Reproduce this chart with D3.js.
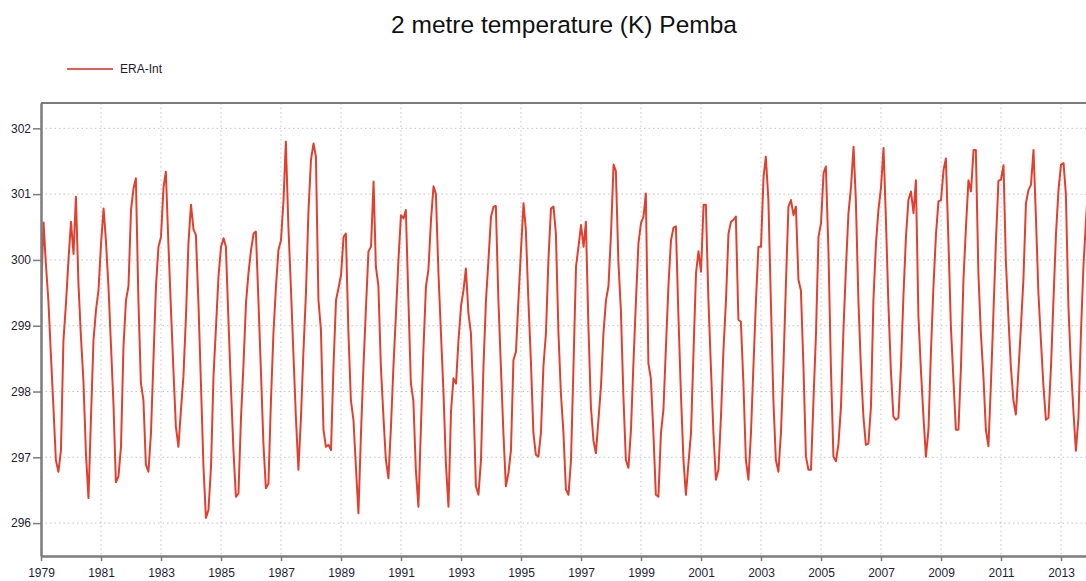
<!DOCTYPE html>
<html>
<head>
<meta charset="utf-8">
<script src="https://cdn.jsdelivr.net/npm/d3@7"></script>
<style>
  html, body { margin: 0; padding: 0; background: #fff; overflow: hidden; }
  svg { display: block; font-family: "Liberation Sans", Arial, Helvetica, sans-serif; }
</style>
</head>
<body>
<svg id="chart" width="1086" height="581"></svg>
<script>
// ---- Data -----------------------------------------------------------------
const chartTitle = "2 metre temperature (K) Pemba";
const seriesName = "ERA-Int";
const startYear = 1979;

// Monthly mean 2 m temperature (K), Jan..Dec, one row per year
const t2m1979to1983 = [
  299.44, 300.57, 299.95, 299.38, 298.57, 297.77, 296.96, 296.78, 297.11, 298.77, 299.34, 299.99,
  300.58, 300.09, 300.96, 299.64, 298.84, 298.15, 297.06, 296.38, 297.62, 298.78, 299.24, 299.54,
  300.25, 300.78, 300.30, 299.60, 298.73, 297.82, 296.62, 296.71, 297.16, 298.68, 299.39, 299.60,
  300.76, 301.09, 301.24, 299.39, 298.13, 297.87, 296.89, 296.78, 297.37, 298.48, 299.60, 300.20,
  300.35, 301.11, 301.34, 300.25, 299.29, 298.33, 297.47, 297.16, 297.72, 298.23, 299.14, 300.25
];
const t2m1984to1988 = [
  300.84, 300.46, 300.38, 299.34, 298.13, 296.86, 296.08, 296.20, 296.86, 298.23, 298.99, 299.75,
  300.20, 300.33, 300.20, 299.09, 298.08, 297.11, 296.40, 296.45, 297.60, 298.40, 299.35, 299.80,
  300.15, 300.40, 300.43, 299.39, 298.33, 297.21, 296.53, 296.60, 297.87, 298.89, 299.60, 300.15,
  300.30, 300.91, 301.80, 300.51, 299.60, 298.58, 297.62, 296.81, 297.60, 298.60, 299.50, 300.73,
  301.52, 301.77, 301.57, 299.39, 298.94, 297.42, 297.16, 297.19, 297.11, 298.38, 299.39, 299.57
];
const t2m1989to1993 = [
  299.77, 300.35, 300.40, 298.89, 297.87, 297.57, 296.86, 296.15, 297.37, 298.38, 299.29, 300.13,
  300.20, 301.19, 299.90, 299.60, 298.38, 297.62, 296.96, 296.68, 297.47, 298.38, 299.19, 300.00,
  300.68, 300.63, 300.76, 299.40, 298.13, 297.85, 296.81, 296.25, 297.47, 298.63, 299.60, 299.85,
  300.60, 301.12, 301.00, 299.80, 298.90, 298.00, 296.90, 296.25, 297.70, 298.20, 298.12, 298.78,
  299.30, 299.55, 299.87, 299.19, 298.89, 297.87, 296.56, 296.43, 296.96, 298.38, 299.39, 300.00
];
const t2m1994to1998 = [
  300.66, 300.81, 300.82, 299.39, 298.38, 297.37, 296.56, 296.76, 297.11, 298.48, 298.61, 299.39,
  300.15, 300.86, 300.46, 299.39, 298.48, 297.37, 297.04, 297.01, 297.37, 298.38, 298.89, 300.00,
  300.78, 300.81, 300.40, 298.89, 297.97, 297.37, 296.51, 296.43, 296.96, 298.38, 299.90, 300.20,
  300.53, 300.20, 300.58, 298.99, 297.77, 297.26, 297.06, 297.57, 298.08, 298.89, 299.39, 299.60,
  300.40, 301.45, 301.35, 299.97, 299.24, 297.92, 296.96, 296.84, 297.42, 298.43, 299.39, 300.25
];
const t2m1999to2003 = [
  300.56, 300.66, 301.01, 298.43, 298.20, 297.37, 296.43, 296.40, 297.37, 297.72, 298.68, 299.60,
  300.30, 300.49, 300.51, 299.14, 297.97, 296.96, 296.43, 296.91, 297.37, 298.58, 299.80, 300.13,
  299.82, 300.84, 300.84, 299.39, 298.38, 297.37, 296.66, 296.81, 297.62, 298.63, 299.39, 300.40,
  300.58, 300.61, 300.66, 299.09, 299.06, 298.13, 296.96, 296.66, 297.37, 298.38, 299.39, 300.20,
  300.20, 301.26, 301.57, 300.91, 299.39, 297.87, 296.96, 296.78, 297.37, 298.38, 299.65, 300.81
];
const t2m2004to2008 = [
  300.91, 300.68, 300.81, 299.70, 299.54, 298.38, 297.01, 296.81, 296.81, 297.87, 298.89, 300.35,
  300.56, 301.32, 301.42, 300.15, 298.38, 297.01, 296.94, 297.20, 297.77, 298.94, 299.90, 300.71,
  301.11, 301.72, 300.91, 299.39, 298.38, 297.62, 297.19, 297.21, 297.77, 299.39, 300.25, 300.76,
  301.10, 301.70, 300.66, 299.34, 298.33, 297.62, 297.57, 297.60, 298.38, 299.44, 300.35, 300.91,
  301.04, 300.71, 301.21, 299.14, 298.33, 297.62, 297.01, 297.42, 298.63, 299.60, 300.40, 300.89
];
const t2m2009to2013 = [
  300.91, 301.37, 301.54, 300.30, 298.99, 298.18, 297.42, 297.42, 298.38, 299.70, 300.51, 301.21,
  301.04, 301.67, 301.67, 299.80, 298.89, 298.23, 297.42, 297.17, 298.13, 299.19, 300.30, 301.20,
  301.22, 301.44, 300.00, 299.14, 298.38, 297.87, 297.65, 298.30, 298.99, 299.70, 300.86, 301.06,
  301.14, 301.67, 300.66, 299.49, 298.78, 298.08, 297.57, 297.60, 298.38, 299.39, 300.40, 301.06,
  301.45, 301.47, 301.00, 299.30, 298.40, 297.70, 297.10, 297.60, 298.90, 299.90, 300.60, 301.20
];

// Axis ticks
const xTickYears = [1979, 1981, 1983, 1985, 1987, 1989, 1991, 1993, 1995, 1997,
                    1999, 2001, 2003, 2005, 2007, 2009, 2011, 2013];
const yTickValues = [296, 297, 298, 299, 300, 301, 302];

// ---- Layout ---------------------------------------------------------------
const lineColor = "#e2402f";
const textColor = "#1d1d33";
const axisColor = "#7c7c7c";
const gridColor = "#c4c4c4";

const plot = { left: 41, right: 1091, top: 103, bottom: 556 };

const monthly = [].concat(t2m1979to1983, t2m1984to1988, t2m1989to1993,
                          t2m1994to1998, t2m1999to2003, t2m2004to2008, t2m2009to2013);
const points = monthly.map((v, i) => ({ date: new Date(startYear, i, 1), value: v }));

const x = d3.scaleTime()
  .domain([new Date(1979, 0, 1), new Date(2014, 0, 1)])
  .range([plot.left, plot.right]);
const y = d3.scaleLinear()
  .domain([295.5, 302.385])
  .range([plot.bottom, plot.top]);

const svg = d3.select("#chart");

svg.append("defs").append("clipPath").attr("id", "plot-clip")
  .append("rect")
  .attr("x", plot.left).attr("y", plot.top)
  .attr("width", plot.right - plot.left).attr("height", plot.bottom - plot.top);

// Title
svg.append("text")
  .attr("x", 564).attr("y", 33)
  .attr("text-anchor", "middle")
  .attr("font-size", "24.5px")
  .attr("fill", "#111")
  .text(chartTitle);

// Legend
const legend = svg.append("g");
legend.append("line")
  .attr("x1", 67).attr("x2", 113).attr("y1", 69).attr("y2", 69)
  .attr("stroke", lineColor).attr("stroke-opacity", 0.85).attr("stroke-width", 2);
legend.append("text")
  .attr("x", 120).attr("y", 69).attr("dy", "0.35em")
  .attr("font-size", "12px").attr("fill", textColor)
  .text(seriesName);

// Dotted grid
const xTickDates = xTickYears.map(yr => new Date(yr, 0, 1));
const grid = svg.append("g")
  .attr("stroke", gridColor).attr("stroke-width", 1)
  .attr("stroke-dasharray", "1.5,3");
grid.selectAll("line.h").data(yTickValues).join("line").attr("class", "h")
  .attr("x1", plot.left).attr("x2", plot.right)
  .attr("y1", d => y(d)).attr("y2", d => y(d));
grid.selectAll("line.v").data(xTickDates).join("line").attr("class", "v")
  .attr("x1", d => x(d)).attr("x2", d => x(d))
  .attr("y1", plot.top).attr("y2", plot.bottom);

// Series line
svg.append("path")
  .datum(points)
  .attr("clip-path", "url(#plot-clip)")
  .attr("fill", "none")
  .attr("stroke", lineColor)
  .attr("stroke-width", 2)
  .attr("stroke-linejoin", "round")
  .attr("d", d3.line().x(d => x(d.date)).y(d => y(d.value)));

// Top frame
svg.append("line")
  .attr("x1", plot.left).attr("x2", plot.right)
  .attr("y1", plot.top).attr("y2", plot.top)
  .attr("stroke", axisColor).attr("stroke-width", 2);

// Axes
const yAxis = svg.append("g")
  .attr("transform", `translate(${plot.left},0)`)
  .call(d3.axisLeft(y).tickValues(yTickValues).tickFormat(d3.format("d"))
        .tickSize(8).tickSizeOuter(0).tickPadding(2));
const xAxis = svg.append("g")
  .attr("transform", `translate(0,${plot.bottom})`)
  .call(d3.axisBottom(x).tickValues(xTickDates).tickFormat(d3.timeFormat("%Y"))
        .tickSize(5).tickSizeOuter(0).tickPadding(7));

[yAxis, xAxis].forEach(g => {
  g.select(".domain").attr("stroke", axisColor).attr("stroke-width", 2.5);
  g.selectAll(".tick line").attr("stroke", axisColor).attr("stroke-width", 1.5);
  g.selectAll(".tick text")
    .attr("fill", textColor)
    .attr("font-size", "12px")
    .attr("font-family", "\"Liberation Sans\", Arial, Helvetica, sans-serif");
});
</script>
</body>
</html>
